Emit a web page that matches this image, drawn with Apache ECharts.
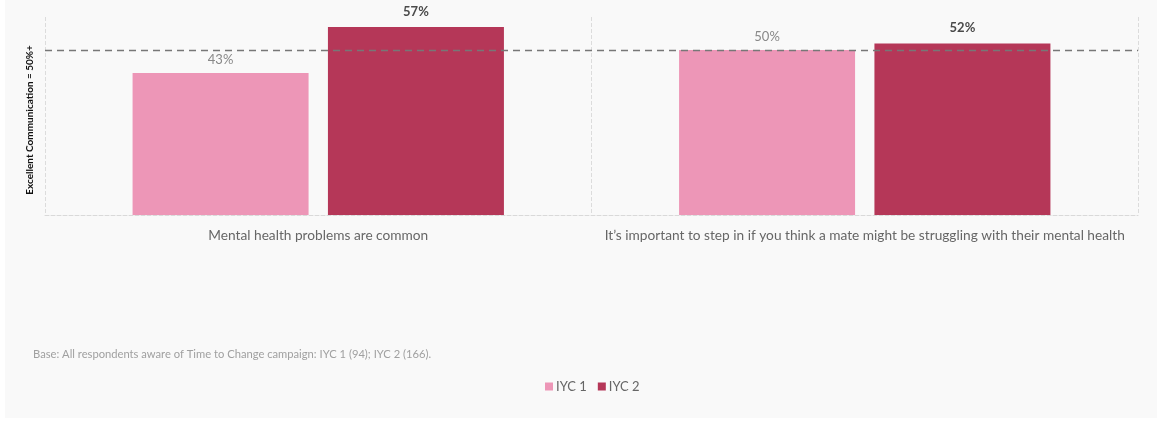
<!DOCTYPE html>
<html>
<head>
<meta charset="utf-8">
<script src="https://cdn.jsdelivr.net/npm/echarts@6/dist/echarts.min.js"></script>
<style>
html,body{margin:0;padding:0;background:#ffffff;}
#wrap{position:absolute;left:5px;top:0;width:1152px;height:418px;background:#f9f9f9;}
#chart{width:1152px;height:418px;}
</style>
</head>
<body>
<div id="wrap"><div id="chart"></div></div>
<script>
const categories = ['Mental health problems are common', 'It\u2019s important to step in if you think a mate might be struggling with their mental health'];
const seriesNames = ['IYC 1', 'IYC 2'];
const iyc1 = [43, 50];
const iyc2 = [57, 52];
const threshold = 50;
const yAxisName = 'Excellent Communication = 50%+';
const baseNote = 'Base: All respondents aware of Time to Change campaign: IYC 1 (94); IYC 2 (166).';

const FONT = 'Lato';
const chart = echarts.init(document.getElementById('chart'));
chart.setOption({
  backgroundColor: 'transparent',
  textStyle: { fontFamily: FONT },
  animation: false,
  grid: { left: 40, right: 19, top: 17, bottom: 203, containLabel: false },
  legend: {
    data: seriesNames,
    left: 535,
    top: 375,
    itemWidth: 8,
    itemHeight: 8,
    itemGap: 11,
    icon: 'rect',
    textStyle: { color: '#666', fontSize: 13, fontFamily: FONT, padding: [0, 0, 0, -2] }
  },
  graphic: [
    {
      type: 'text', left: 28, top: 349,
      style: { text: baseNote, fill: '#a0a0a0', fontSize: 11.2, fontFamily: FONT }
    },
    {
      type: 'text', x: 25, y: 120, rotation: Math.PI / 2,
      style: { text: yAxisName, fill: '#111', fontSize: 10, fontWeight: 'bold', fontFamily: FONT, align: 'center', verticalAlign: 'middle' }
    }
  ],
  xAxis: {
    type: 'category',
    data: categories,
    axisLine: { show: true, lineStyle: { color: '#d9d9d9', type: 'dashed' } },
    axisTick: { show: false },
    splitLine: { show: true, lineStyle: { color: '#dcdcdc', type: 'dashed' } },
    axisLabel: { color: '#666', fontSize: 13.7, margin: 14, fontFamily: FONT, interval: 0 }
  },
  yAxis: {
    type: 'value',
    min: 0, max: 60,
    axisLine: { show: false },
    axisTick: { show: false },
    axisLabel: { show: false },
    splitLine: { show: false }
  },
  series: [
    {
      name: seriesNames[0], type: 'bar', data: iyc1,
      barWidth: 176, barGap: '11%',
      itemStyle: { color: '#ed96b7' },
      label: { show: true, position: 'top', formatter: '{c}%', color: '#888', fontSize: 13, distance: 7, fontFamily: FONT },
      markLine: {
        silent: true, symbol: 'none',
        label: { show: false },
        lineStyle: { color: '#777', type: [7, 5], width: 1.3 },
        data: [{ yAxis: threshold }]
      }
    },
    {
      name: seriesNames[1], type: 'bar', data: iyc2,
      barWidth: 176,
      itemStyle: { color: '#b53758' },
      label: { show: true, position: 'top', formatter: '{c}%', color: '#4a4a4a', fontSize: 13, fontWeight: 'bold', distance: 9, fontFamily: FONT }
    }
  ]
});
</script>
</body>
</html>
